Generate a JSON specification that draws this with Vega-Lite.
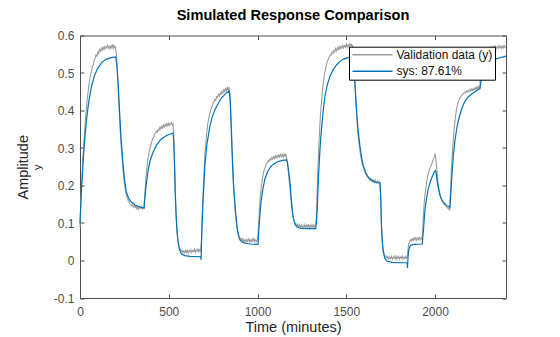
{
"$schema": "https://vega.github.io/schema/vega-lite/v6.json",
"width": 426,
"height": 262.5,
"autosize": {"type": "none"},
"padding": {"left": 80, "top": 35.5, "right": 54, "bottom": 39},
"background": "white",
"title": {"text": "Simulated Response Comparison", "fontSize": 14.6, "fontWeight": "bold", "font": "Liberation Sans", "color": "#000000", "offset": 7, "anchor": "middle"},
"datasets": {
"meas": [
{"t":0,"v":0.088},{"t":5,"v":0.165},{"t":10,"v":0.215},{"t":15,"v":0.262},{"t":20,"v":0.305},{"t":25,"v":0.338},{"t":30,"v":0.372},{"t":35,"v":0.4},{"t":40,"v":0.428},{"t":45,"v":0.447},{"t":50,"v":0.468},{"t":55,"v":0.482},{"t":60,"v":0.497},{"t":65,"v":0.505},{"t":70,"v":0.518},{"t":75,"v":0.522},{"t":80,"v":0.535},{"t":85,"v":0.538},{"t":90,"v":0.548},{"t":95,"v":0.545},{"t":100,"v":0.556},{"t":105,"v":0.552},{"t":110,"v":0.563},{"t":115,"v":0.558},{"t":120,"v":0.566},{"t":125,"v":0.561},{"t":130,"v":0.569},{"t":135,"v":0.563},{"t":140,"v":0.571},{"t":145,"v":0.565},{"t":150,"v":0.569},{"t":155,"v":0.574},{"t":160,"v":0.566},{"t":165,"v":0.571},{"t":170,"v":0.565},{"t":175,"v":0.573},{"t":180,"v":0.567},{"t":185,"v":0.576},{"t":190,"v":0.566},{"t":195,"v":0.572},{"t":200,"v":0.568},
{"t":205,"v":0.55},{"t":210,"v":0.51},{"t":215,"v":0.46},{"t":220,"v":0.41},{"t":225,"v":0.36},{"t":230,"v":0.32},{"t":235,"v":0.285},{"t":240,"v":0.255},{"t":245,"v":0.228},{"t":250,"v":0.206},{"t":255,"v":0.19},{"t":260,"v":0.178},{"t":265,"v":0.17},{"t":270,"v":0.161},{"t":275,"v":0.157},{"t":280,"v":0.152},{"t":285,"v":0.15},{"t":290,"v":0.146},{"t":295,"v":0.148},{"t":300,"v":0.143},{"t":305,"v":0.147},{"t":310,"v":0.141},{"t":315,"v":0.145},{"t":320,"v":0.138},{"t":325,"v":0.143},{"t":330,"v":0.136},{"t":335,"v":0.141},{"t":340,"v":0.139},{"t":345,"v":0.144},{"t":350,"v":0.137},{"t":355,"v":0.142},{"t":360,"v":0.139},
{"t":365,"v":0.175},{"t":370,"v":0.21},{"t":375,"v":0.24},{"t":380,"v":0.262},{"t":385,"v":0.278},{"t":390,"v":0.29},{"t":395,"v":0.3},{"t":400,"v":0.31},{"t":405,"v":0.318},{"t":410,"v":0.326},{"t":415,"v":0.329},{"t":420,"v":0.337},{"t":425,"v":0.34},{"t":430,"v":0.345},{"t":435,"v":0.342},{"t":440,"v":0.35},{"t":445,"v":0.347},{"t":450,"v":0.355},{"t":455,"v":0.351},{"t":460,"v":0.358},{"t":465,"v":0.353},{"t":470,"v":0.361},{"t":475,"v":0.356},{"t":480,"v":0.363},{"t":485,"v":0.358},{"t":490,"v":0.365},{"t":495,"v":0.359},{"t":500,"v":0.366},{"t":505,"v":0.36},{"t":510,"v":0.364},{"t":515,"v":0.368},{"t":520,"v":0.361},{"t":524,"v":0.365},
{"t":528,"v":0.34},{"t":532,"v":0.28},{"t":536,"v":0.2},{"t":540,"v":0.14},{"t":545,"v":0.09},{"t":550,"v":0.062},{"t":555,"v":0.045},{"t":560,"v":0.035},{"t":565,"v":0.03},{"t":570,"v":0.025},{"t":575,"v":0.027},{"t":580,"v":0.021},{"t":585,"v":0.026},{"t":590,"v":0.02},{"t":595,"v":0.027},{"t":600,"v":0.022},{"t":605,"v":0.028},{"t":610,"v":0.019},{"t":615,"v":0.026},{"t":620,"v":0.023},{"t":625,"v":0.029},{"t":630,"v":0.021},{"t":635,"v":0.027},{"t":640,"v":0.024},{"t":645,"v":0.03},{"t":650,"v":0.022},{"t":655,"v":0.028},{"t":660,"v":0.025},{"t":665,"v":0.031},{"t":670,"v":0.023},{"t":675,"v":0.029},{"t":680,"v":0.026},
{"t":685,"v":0.06},{"t":690,"v":0.14},{"t":695,"v":0.2},{"t":700,"v":0.25},{"t":705,"v":0.29},{"t":710,"v":0.32},{"t":715,"v":0.345},{"t":720,"v":0.365},{"t":725,"v":0.378},{"t":730,"v":0.39},{"t":735,"v":0.398},{"t":740,"v":0.408},{"t":745,"v":0.412},{"t":750,"v":0.42},{"t":755,"v":0.422},{"t":760,"v":0.43},{"t":765,"v":0.428},{"t":770,"v":0.437},{"t":775,"v":0.435},{"t":780,"v":0.443},{"t":785,"v":0.439},{"t":790,"v":0.447},{"t":795,"v":0.443},{"t":800,"v":0.451},{"t":805,"v":0.446},{"t":810,"v":0.455},{"t":815,"v":0.45},{"t":820,"v":0.458},{"t":825,"v":0.452},{"t":830,"v":0.461},{"t":835,"v":0.455},{"t":840,"v":0.462},
{"t":845,"v":0.44},{"t":850,"v":0.39},{"t":855,"v":0.33},{"t":860,"v":0.26},{"t":865,"v":0.205},{"t":870,"v":0.165},{"t":875,"v":0.13},{"t":880,"v":0.105},{"t":885,"v":0.088},{"t":890,"v":0.075},{"t":895,"v":0.066},{"t":900,"v":0.062},{"t":905,"v":0.056},{"t":910,"v":0.059},{"t":915,"v":0.052},{"t":920,"v":0.057},{"t":925,"v":0.05},{"t":930,"v":0.055},{"t":935,"v":0.049},{"t":940,"v":0.056},{"t":945,"v":0.051},{"t":950,"v":0.058},{"t":955,"v":0.05},{"t":960,"v":0.055},{"t":965,"v":0.049},{"t":970,"v":0.057},{"t":975,"v":0.052},{"t":980,"v":0.058},{"t":985,"v":0.05},{"t":990,"v":0.055},{"t":995,"v":0.051},{"t":1000,"v":0.056},
{"t":1006,"v":0.09},{"t":1010,"v":0.13},{"t":1015,"v":0.165},{"t":1020,"v":0.19},{"t":1025,"v":0.21},{"t":1030,"v":0.225},{"t":1035,"v":0.236},{"t":1040,"v":0.245},{"t":1045,"v":0.25},{"t":1050,"v":0.258},{"t":1055,"v":0.26},{"t":1060,"v":0.266},{"t":1065,"v":0.264},{"t":1070,"v":0.271},{"t":1075,"v":0.268},{"t":1080,"v":0.274},{"t":1085,"v":0.27},{"t":1090,"v":0.277},{"t":1095,"v":0.272},{"t":1100,"v":0.279},{"t":1105,"v":0.274},{"t":1110,"v":0.28},{"t":1115,"v":0.275},{"t":1120,"v":0.282},{"t":1125,"v":0.276},{"t":1130,"v":0.283},{"t":1135,"v":0.277},{"t":1140,"v":0.282},{"t":1145,"v":0.276},{"t":1150,"v":0.284},{"t":1155,"v":0.278},{"t":1160,"v":0.283},
{"t":1168,"v":0.265},{"t":1172,"v":0.245},{"t":1177,"v":0.22},{"t":1182,"v":0.195},{"t":1187,"v":0.17},{"t":1192,"v":0.145},{"t":1197,"v":0.126},{"t":1202,"v":0.113},{"t":1207,"v":0.105},{"t":1212,"v":0.1},{"t":1217,"v":0.097},{"t":1222,"v":0.092},{"t":1227,"v":0.097},{"t":1232,"v":0.09},{"t":1237,"v":0.095},{"t":1242,"v":0.088},{"t":1247,"v":0.094},{"t":1252,"v":0.086},{"t":1257,"v":0.093},{"t":1262,"v":0.089},{"t":1267,"v":0.096},{"t":1272,"v":0.087},{"t":1277,"v":0.094},{"t":1282,"v":0.09},{"t":1287,"v":0.097},{"t":1292,"v":0.083},{"t":1297,"v":0.094},{"t":1302,"v":0.089},{"t":1307,"v":0.095},{"t":1312,"v":0.088},{"t":1317,"v":0.094},{"t":1322,"v":0.09},{"t":1327,"v":0.096},
{"t":1331,"v":0.11},{"t":1335,"v":0.17},{"t":1340,"v":0.24},{"t":1345,"v":0.3},{"t":1350,"v":0.35},{"t":1355,"v":0.39},{"t":1360,"v":0.42},{"t":1365,"v":0.45},{"t":1370,"v":0.47},{"t":1375,"v":0.49},{"t":1380,"v":0.503},{"t":1385,"v":0.515},{"t":1390,"v":0.525},{"t":1395,"v":0.532},{"t":1400,"v":0.54},{"t":1405,"v":0.542},{"t":1410,"v":0.549},{"t":1415,"v":0.548},{"t":1420,"v":0.556},{"t":1425,"v":0.552},{"t":1430,"v":0.56},{"t":1435,"v":0.556},{"t":1440,"v":0.565},{"t":1445,"v":0.559},{"t":1450,"v":0.567},{"t":1455,"v":0.562},{"t":1460,"v":0.57},{"t":1465,"v":0.564},{"t":1470,"v":0.571},{"t":1475,"v":0.566},{"t":1480,"v":0.574},{"t":1485,"v":0.567},{"t":1490,"v":0.573},{"t":1495,"v":0.569},{"t":1500,"v":0.577},{"t":1505,"v":0.568},{"t":1510,"v":0.575},{"t":1515,"v":0.57},{"t":1520,"v":0.578},{"t":1525,"v":0.571},{"t":1530,"v":0.576},{"t":1535,"v":0.572},
{"t":1540,"v":0.55},{"t":1545,"v":0.51},{"t":1550,"v":0.46},{"t":1555,"v":0.415},{"t":1560,"v":0.375},{"t":1565,"v":0.345},{"t":1570,"v":0.32},{"t":1575,"v":0.3},{"t":1580,"v":0.283},{"t":1585,"v":0.268},{"t":1590,"v":0.258},{"t":1595,"v":0.25},{"t":1600,"v":0.242},{"t":1605,"v":0.237},{"t":1610,"v":0.23},{"t":1615,"v":0.228},{"t":1620,"v":0.222},{"t":1625,"v":0.222},{"t":1630,"v":0.216},{"t":1635,"v":0.219},{"t":1640,"v":0.213},{"t":1645,"v":0.217},{"t":1650,"v":0.21},{"t":1655,"v":0.215},{"t":1660,"v":0.208},{"t":1665,"v":0.214},{"t":1670,"v":0.207},{"t":1675,"v":0.212},{"t":1680,"v":0.206},{"t":1685,"v":0.211},{"t":1690,"v":0.205},
{"t":1694,"v":0.175},{"t":1698,"v":0.1},{"t":1702,"v":0.06},{"t":1706,"v":0.035},{"t":1710,"v":0.022},{"t":1715,"v":0.015},{"t":1720,"v":0.01},{"t":1725,"v":0.012},{"t":1730,"v":0.006},{"t":1735,"v":0.01},{"t":1740,"v":0.004},{"t":1745,"v":0.009},{"t":1750,"v":0.005},{"t":1755,"v":0.011},{"t":1760,"v":0.004},{"t":1765,"v":0.009},{"t":1770,"v":0.006},{"t":1775,"v":0.012},{"t":1780,"v":0.003},{"t":1785,"v":0.01},{"t":1790,"v":0.005},{"t":1795,"v":0.011},{"t":1800,"v":0.004},{"t":1805,"v":0.009},{"t":1810,"v":0.006},{"t":1815,"v":0.012},{"t":1820,"v":0.004},{"t":1825,"v":0.009},{"t":1830,"v":0.005},{"t":1835,"v":0.011},{"t":1840,"v":0.006},{"t":1844,"v":0.009},
{"t":1848,"v":0.03},{"t":1852,"v":0.045},{"t":1857,"v":0.05},{"t":1862,"v":0.055},{"t":1867,"v":0.052},{"t":1872,"v":0.058},{"t":1877,"v":0.053},{"t":1882,"v":0.06},{"t":1887,"v":0.055},{"t":1892,"v":0.061},{"t":1897,"v":0.054},{"t":1902,"v":0.06},{"t":1907,"v":0.056},{"t":1912,"v":0.062},{"t":1917,"v":0.055},{"t":1922,"v":0.06},{"t":1927,"v":0.057},
{"t":1932,"v":0.09},{"t":1936,"v":0.13},{"t":1940,"v":0.16},{"t":1945,"v":0.18},{"t":1950,"v":0.2},{"t":1955,"v":0.215},{"t":1960,"v":0.226},{"t":1965,"v":0.236},{"t":1970,"v":0.245},{"t":1975,"v":0.25},{"t":1980,"v":0.255},{"t":1985,"v":0.262},{"t":1990,"v":0.27},{"t":1995,"v":0.275},{"t":2000,"v":0.283},{"t":2004,"v":0.275},{"t":2008,"v":0.255},{"t":2012,"v":0.235},{"t":2017,"v":0.21},{"t":2022,"v":0.192},{"t":2027,"v":0.18},{"t":2032,"v":0.17},{"t":2037,"v":0.163},{"t":2042,"v":0.158},{"t":2047,"v":0.153},{"t":2052,"v":0.15},{"t":2057,"v":0.148},{"t":2062,"v":0.145},{"t":2067,"v":0.142},{"t":2072,"v":0.14},{"t":2077,"v":0.137},{"t":2082,"v":0.135},
{"t":2088,"v":0.19},{"t":2092,"v":0.24},{"t":2097,"v":0.28},{"t":2102,"v":0.315},{"t":2107,"v":0.345},{"t":2112,"v":0.37},{"t":2117,"v":0.39},{"t":2122,"v":0.405},{"t":2127,"v":0.415},{"t":2132,"v":0.425},{"t":2137,"v":0.43},{"t":2142,"v":0.435},{"t":2147,"v":0.438},{"t":2152,"v":0.442},{"t":2157,"v":0.444},{"t":2162,"v":0.446},{"t":2167,"v":0.449},{"t":2172,"v":0.447},{"t":2177,"v":0.452},{"t":2182,"v":0.449},{"t":2187,"v":0.454},{"t":2192,"v":0.451},{"t":2197,"v":0.456},{"t":2202,"v":0.452},{"t":2207,"v":0.458},{"t":2212,"v":0.453},{"t":2217,"v":0.459},{"t":2222,"v":0.455},{"t":2227,"v":0.461},{"t":2232,"v":0.456},{"t":2237,"v":0.463},{"t":2242,"v":0.458},{"t":2247,"v":0.464},{"t":2252,"v":0.46},
{"t":2256,"v":0.49},{"t":2260,"v":0.515},{"t":2265,"v":0.535},{"t":2270,"v":0.545},{"t":2275,"v":0.551},{"t":2280,"v":0.555},{"t":2285,"v":0.558},{"t":2290,"v":0.562},{"t":2295,"v":0.559},{"t":2300,"v":0.565},{"t":2305,"v":0.561},{"t":2310,"v":0.567},{"t":2315,"v":0.562},{"t":2320,"v":0.569},{"t":2325,"v":0.564},{"t":2330,"v":0.57},{"t":2335,"v":0.565},{"t":2340,"v":0.572},{"t":2345,"v":0.566},{"t":2350,"v":0.57},{"t":2355,"v":0.566},{"t":2360,"v":0.573},{"t":2365,"v":0.567},{"t":2370,"v":0.571},{"t":2375,"v":0.566},{"t":2380,"v":0.572},{"t":2385,"v":0.567},{"t":2390,"v":0.573},{"t":2395,"v":0.568},{"t":2400,"v":0.571}
],
"sim": [
{"t":0,"v":0.099},{"t":5,"v":0.154},{"t":10,"v":0.202},{"t":20,"v":0.281},{"t":30,"v":0.343},{"t":40,"v":0.389},{"t":50,"v":0.425},{"t":65,"v":0.464},{"t":80,"v":0.491},{"t":100,"v":0.513},{"t":125,"v":0.529},{"t":150,"v":0.537},{"t":175,"v":0.541},{"t":201,"v":0.543},
{"t":208,"v":0.52},{"t":215,"v":0.47},{"t":223,"v":0.395},{"t":232,"v":0.32},{"t":242,"v":0.26},{"t":251,"v":0.215},{"t":261,"v":0.183},{"t":275,"v":0.165},{"t":289,"v":0.156},{"t":310,"v":0.148},{"t":335,"v":0.143},{"t":361,"v":0.14},
{"t":365,"v":0.163},{"t":370,"v":0.19},{"t":377,"v":0.217},{"t":385,"v":0.244},{"t":395,"v":0.266},{"t":411,"v":0.288},{"t":430,"v":0.307},{"t":458,"v":0.324},{"t":490,"v":0.334},{"t":524,"v":0.34},
{"t":528,"v":0.32},{"t":532,"v":0.26},{"t":537,"v":0.174},{"t":542,"v":0.115},{"t":547,"v":0.075},{"t":552,"v":0.051},{"t":560,"v":0.03},{"t":571,"v":0.018},{"t":590,"v":0.013},{"t":620,"v":0.011},{"t":680,"v":0.01},{"t":682,"v":0.002},
{"t":684,"v":0.04},{"t":688,"v":0.1},{"t":694,"v":0.165},{"t":704,"v":0.255},{"t":715,"v":0.31},{"t":732,"v":0.359},{"t":745,"v":0.383},{"t":761,"v":0.403},{"t":780,"v":0.42},{"t":798,"v":0.434},{"t":820,"v":0.445},{"t":841,"v":0.452},
{"t":846,"v":0.43},{"t":850,"v":0.38},{"t":854,"v":0.324},{"t":860,"v":0.25},{"t":865,"v":0.2},{"t":869,"v":0.174},{"t":877,"v":0.125},{"t":886,"v":0.085},{"t":893,"v":0.066},{"t":901,"v":0.055},{"t":915,"v":0.049},{"t":930,"v":0.046},{"t":960,"v":0.044},{"t":1003,"v":0.043},
{"t":1006,"v":0.07},{"t":1010,"v":0.1},{"t":1015,"v":0.13},{"t":1020,"v":0.156},{"t":1030,"v":0.19},{"t":1042,"v":0.218},{"t":1060,"v":0.24},{"t":1080,"v":0.253},{"t":1100,"v":0.26},{"t":1117,"v":0.264},{"t":1140,"v":0.267},{"t":1164,"v":0.268},
{"t":1169,"v":0.26},{"t":1175,"v":0.24},{"t":1183,"v":0.21},{"t":1190,"v":0.165},{"t":1196,"v":0.135},{"t":1202,"v":0.112},{"t":1211,"v":0.097},{"t":1221,"v":0.09},{"t":1240,"v":0.086},{"t":1280,"v":0.085},{"t":1328,"v":0.085},
{"t":1332,"v":0.1},{"t":1337,"v":0.14},{"t":1343,"v":0.218},{"t":1350,"v":0.28},{"t":1356,"v":0.325},{"t":1362,"v":0.359},{"t":1370,"v":0.398},{"t":1380,"v":0.438},{"t":1393,"v":0.468},{"t":1408,"v":0.491},{"t":1425,"v":0.508},{"t":1446,"v":0.522},{"t":1465,"v":0.531},{"t":1484,"v":0.537},{"t":1510,"v":0.541},{"t":1536,"v":0.544},
{"t":1541,"v":0.53},{"t":1547,"v":0.49},{"t":1553,"v":0.44},{"t":1559,"v":0.394},{"t":1567,"v":0.345},{"t":1577,"v":0.306},{"t":1586,"v":0.276},{"t":1596,"v":0.253},{"t":1610,"v":0.234},{"t":1624,"v":0.222},{"t":1640,"v":0.214},{"t":1652,"v":0.211},{"t":1670,"v":0.208},{"t":1690,"v":0.207},
{"t":1694,"v":0.17},{"t":1699,"v":0.085},{"t":1704,"v":0.045},{"t":1709,"v":0.022},{"t":1718,"v":0.005},{"t":1730,"v":-0.002},{"t":1760,"v":-0.005},{"t":1800,"v":-0.006},{"t":1843,"v":-0.006},{"t":1845,"v":-0.02},
{"t":1847,"v":0.0},{"t":1850,"v":0.02},{"t":1855,"v":0.034},{"t":1862,"v":0.04},{"t":1880,"v":0.043},{"t":1928,"v":0.044},
{"t":1933,"v":0.07},{"t":1938,"v":0.1},{"t":1944,"v":0.138},{"t":1952,"v":0.165},{"t":1962,"v":0.191},{"t":1971,"v":0.206},{"t":1981,"v":0.22},{"t":1990,"v":0.23},{"t":1998,"v":0.238},{"t":2003,"v":0.24},{"t":2008,"v":0.228},{"t":2013,"v":0.209},{"t":2020,"v":0.19},{"t":2028,"v":0.174},{"t":2037,"v":0.163},{"t":2047,"v":0.156},{"t":2060,"v":0.149},{"t":2072,"v":0.145},{"t":2084,"v":0.141},
{"t":2088,"v":0.17},{"t":2093,"v":0.21},{"t":2098,"v":0.245},{"t":2103,"v":0.279},{"t":2112,"v":0.318},{"t":2122,"v":0.35},{"t":2131,"v":0.372},{"t":2141,"v":0.39},{"t":2155,"v":0.41},{"t":2169,"v":0.425},{"t":2187,"v":0.436},{"t":2207,"v":0.444},{"t":2225,"v":0.45},{"t":2244,"v":0.456},{"t":2253,"v":0.458},
{"t":2257,"v":0.47},{"t":2262,"v":0.487},{"t":2268,"v":0.5},{"t":2278,"v":0.515},{"t":2291,"v":0.526},{"t":2310,"v":0.531},{"t":2329,"v":0.535},{"t":2360,"v":0.54},{"t":2400,"v":0.545}
]
},
"layer": [
{
"data": {"name": "meas"},
"mark": {"type": "line", "strokeWidth": 1.1},
"encoding": {
"x": {"field": "t", "type": "quantitative", "scale": {"domain": [0, 2400], "nice": false, "zero": false},
"axis": {"orient": "bottom", "values": [0, 500, 1000, 1500, 2000], "format": "d", "title": "Time (minutes)", "labelPadding": 12, "titlePadding": 3}},
"y": {"field": "v", "type": "quantitative", "scale": {"domain": [-0.1, 0.6], "nice": false, "zero": false},
"axis": {"orient": "left", "values": [-0.1, 0, 0.1, 0.2, 0.3, 0.4, 0.5, 0.6], "title": "Amplitude", "labelPadding": 10, "titlePadding": 23,
"labelExpr": "datum.value < -0.0001 ? '-' + format(-datum.value, '.1~f') : format(abs(datum.value) < 0.0001 ? 0 : datum.value, '.1~f')"}},
"color": {"datum": "Validation data (y)", "type": "nominal",
"scale": {"domain": ["Validation data (y)", "sys: 87.61%"], "range": ["#9b9b9b", "#0072BD"]},
"legend": {"orient": "none", "legendX": 269, "legendY": 11.2, "title": null, "fillColor": "white", "strokeColor": "#000000", "padding": 2.5, "rowPadding": 3.5, "clipHeight": 11, "labelFontSize": 12, "labelFont": "Liberation Sans", "labelColor": "#111111", "symbolType": "stroke", "symbolSize": 1600, "symbolStrokeWidth": 1.5, "symbolOffset": 0, "labelOffset": 3, "cornerRadius": 0}}
}
},
{
"data": {"name": "sim"},
"mark": {"type": "line", "strokeWidth": 1.2},
"encoding": {
"x": {"field": "t", "type": "quantitative", "scale": {"domain": [0, 2400], "nice": false, "zero": false},
"axis": {"orient": "top", "values": [0, 500, 1000, 1500, 2000], "title": null, "labels": false}},
"y": {"field": "v", "type": "quantitative", "scale": {"domain": [-0.1, 0.6], "nice": false, "zero": false},
"axis": {"orient": "right", "values": [-0.1, 0, 0.1, 0.2, 0.3, 0.4, 0.5, 0.6], "title": null, "labels": false}},
"color": {"datum": "sys: 87.61%", "type": "nominal",
"scale": {"domain": ["Validation data (y)", "sys: 87.61%"], "range": ["#9b9b9b", "#0072BD"]},
"legend": {"orient": "none", "legendX": 269, "legendY": 11.2, "title": null, "fillColor": "white", "strokeColor": "#000000", "padding": 2.5, "rowPadding": 3.5, "clipHeight": 11, "labelFontSize": 12, "labelFont": "Liberation Sans", "labelColor": "#111111", "symbolType": "stroke", "symbolSize": 1600, "symbolStrokeWidth": 1.5, "symbolOffset": 0, "labelOffset": 3, "cornerRadius": 0}}
}
},
{
"data": {"name": "sim"},
"mark": {"type": "line", "opacity": 0},
"encoding": {
"x": {"field": "t", "type": "quantitative", "scale": {"domain": [0, 2400], "nice": false, "zero": false}, "axis": null},
"y": {"field": "v", "type": "quantitative", "scale": {"domain": [-0.1, 0.6], "nice": false, "zero": false},
"axis": {"orient": "left", "title": "y", "labels": false, "ticks": false, "domain": false, "titleFontSize": 11, "titlePadding": 38}}
}
}
],
"resolve": {"axis": {"x": "independent", "y": "independent"}},
"config": {
"view": {"stroke": null},
"axis": {"grid": false, "domainColor": "#4d4d4d", "domainWidth": 1, "tickColor": "#4d4d4d", "tickWidth": 1, "tickSize": -4, "labelFlush": false, "labelFont": "Liberation Sans", "labelFontSize": 12, "labelColor": "#4d4d4d", "titleFont": "Liberation Sans", "titleFontSize": 14.5, "titleColor": "#262626", "titleFontWeight": "normal"}
}
}
